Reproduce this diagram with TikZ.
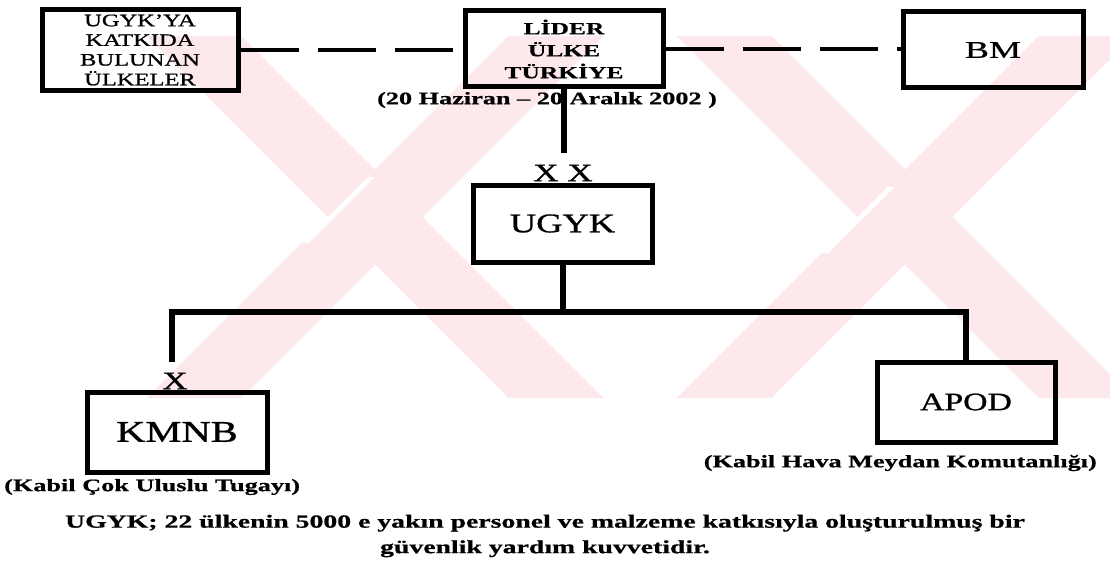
\documentclass[tikz,border=0pt]{standalone}
\usepackage{fontspec}
\setmainfont{Liberation Serif}
\newfontfamily\fa{Liberation Serif}[FakeStretch=1.4, FakeBold=1]
\newfontfamily\fb{Liberation Serif}[FakeStretch=1.5, FakeBold=0.6]
\newfontfamily\fc{Liberation Serif}[FakeStretch=1.35, FakeBold=1]
\newfontfamily\fd{Liberation Serif}[FakeStretch=1.5, FakeBold=0.8]
\definecolor{wm}{RGB}{253,232,236}
\begin{document}
\begin{tikzpicture}[x=1pt,y=-1pt,
  box/.style={draw, line width=5pt, rectangle, inner sep=0pt, align=center},
  conn/.style={line width=6pt},
  dashconn/.style={line width=4.5pt, dash pattern=on 58pt off 19pt},
  lbl/.style={inner sep=0pt, font=\fd\bfseries\fontsize{17.5}{20}\selectfont},
  xlbl/.style={inner sep=0pt, font=\fa\fontsize{25}{28}\selectfont},
]
\useasboundingbox (0,0) rectangle (1110,567);
% watermark
\begin{scope}
\clip (0,0) rectangle (1110,567);
\foreach \cx/\s in {375/177, 905/187} {
  \fill[wm] ({\cx-228.5},36) -- ({\cx-133.5},36) -- ({\cx+228.5},398) -- ({\cx+133.5},398) -- cycle;
  \fill[wm] ({\cx+133.5},36) -- ({\cx+228.5},36) -- ({\cx-133.5},398) -- ({\cx-228.5},398) -- cycle;
  \fill[white] ({\cx+169.5-\s},\s) -- ({\cx+176.5-\s},\s) -- ({\cx+110.5-\s},{\s+66}) -- ({\cx+103.5-\s},{\s+66}) -- cycle;
}
\end{scope}
% boxes
\node[box, minimum width=196pt, minimum height=81pt, font=\fa\fontsize{17.5}{19.7}\selectfont] (A) at (140,50) {UGYK’YA\\KATKIDA\\BULUNAN\\ÜLKELER};
\node[box, minimum width=198pt, minimum height=76pt, font=\fb\bfseries\fontsize{17}{22}\selectfont] (L) at (564,49) {LİDER\\ÜLKE\\TÜRKİYE};
\node[box, minimum width=180pt, minimum height=76pt, font=\fd\fontsize{24}{28}\selectfont] (B) at (993,50) {BM};
\node[box, minimum width=179pt, minimum height=77pt, font=\fc\fontsize{27}{30}\selectfont] (U) at (562.5,223.5) {UGYK};
\node[box, minimum width=180pt, minimum height=80pt, font=\fc\fontsize{30}{34}\selectfont] (K) at (177,432) {KMNB};
\node[box, minimum width=178pt, minimum height=80pt, font=\fc\fontsize{25}{30}\selectfont] (P) at (966,402) {APOD};
% labels
\node[lbl] (dt) at (547,100) {(20 Haziran – 20 Aralık 2002 )};
\node[xlbl] (xx) at (563,173) {X X};
\node[xlbl] (x1) at (175,381) {X};
\node[lbl, anchor=west] (kc) at (4,487) {(Kabil Çok Uluslu Tugayı)};
\node[lbl, anchor=east] (kh) at (1097,463) {(Kabil Hava Meydan Komutanlığı)};
\node[inner sep=0pt, align=center, font=\fd\bfseries\fontsize{18.5}{25.5}\selectfont] (note) at (545,536) {UGYK; 22 ülkenin 5000 e yakın personel ve malzeme katkısıyla oluşturulmuş bir\\güvenlik yardım kuvvetidir.};
% connectors
\coordinate (c1) at (564,153);
\coordinate (bl) at (172,312);
\coordinate (br) at (966,312);
\coordinate (kl) at (172,362);
\draw[dashconn] (A.east) -- (A.east -| L.west);
\draw[dashconn] (L.east) -- (L.east -| B.west);
\draw[conn] (L.south) -- (c1);
\draw[conn] (U.south) -- (U.south |- bl);
\draw[conn] (kl) -- (bl) -- (br) -- (P.north);
\end{tikzpicture}
\end{document}
